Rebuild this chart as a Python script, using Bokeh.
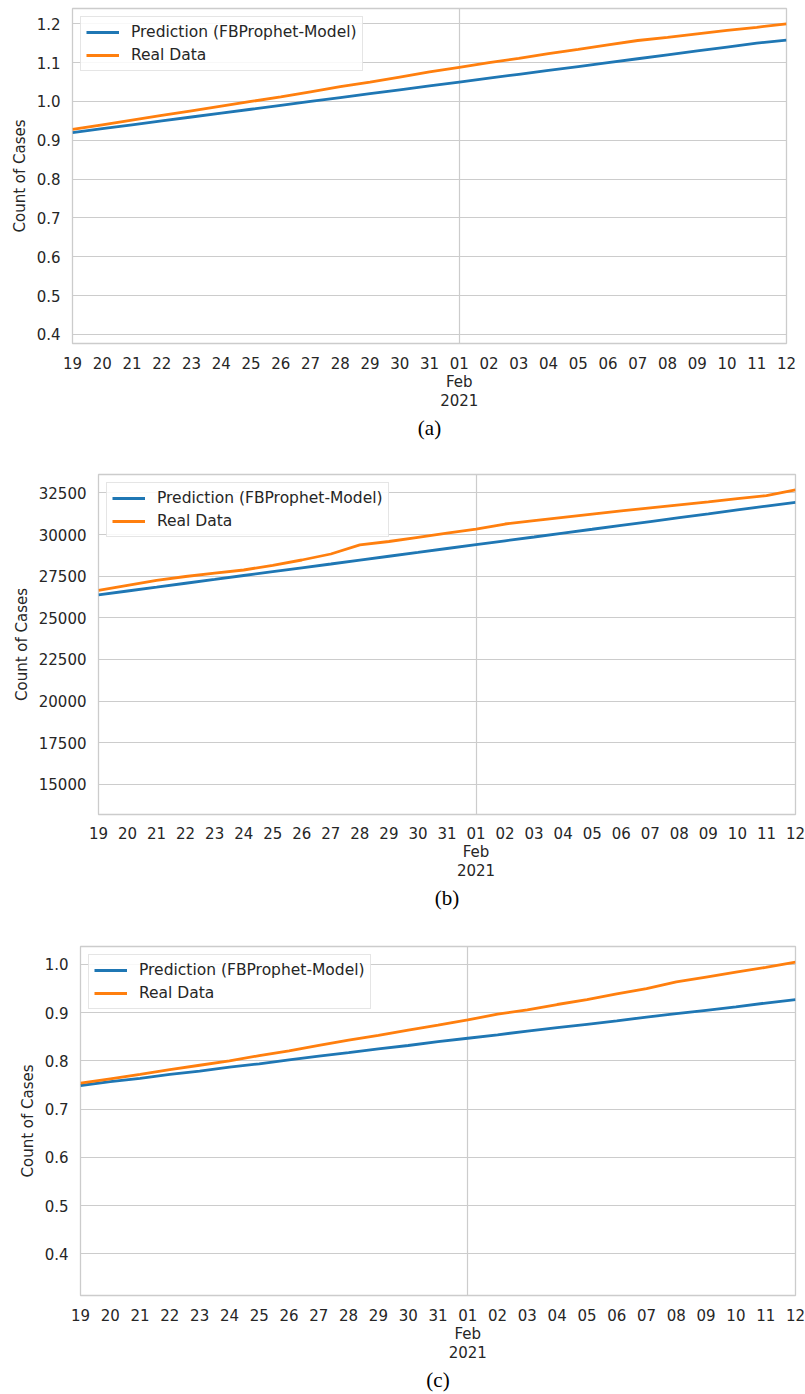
import pandas as pd
from bokeh.plotting import figure
from bokeh.models import Range1d, FixedTicker, Legend, LegendItem, Title, NumeralTickFormatter
from bokeh.embed import file_html
from bokeh.resources import INLINE

# ---------------- data ----------------
dates = ["2021-01-19", "2021-01-20", "2021-01-21", "2021-01-22", "2021-01-23",
         "2021-01-24", "2021-01-25", "2021-01-26", "2021-01-27", "2021-01-28",
         "2021-01-29", "2021-01-30", "2021-01-31", "2021-02-01", "2021-02-02",
         "2021-02-03", "2021-02-04", "2021-02-05", "2021-02-06", "2021-02-07",
         "2021-02-08", "2021-02-09", "2021-02-10", "2021-02-11", "2021-02-12"]
day_labels = ["19", "20", "21", "22", "23", "24", "25", "26", "27", "28", "29", "30", "31",
              "01\nFeb\n2021", "02", "03", "04", "05", "06", "07", "08", "09", "10", "11", "12"]
month_start = "2021-02-01"

pred_a = [0.920, 0.930, 0.940, 0.950, 0.960, 0.970, 0.980, 0.990, 1.000, 1.010, 1.020, 1.030, 1.040,
          1.050, 1.060, 1.070, 1.080, 1.090, 1.100, 1.110, 1.120, 1.130, 1.140, 1.150, 1.158]
real_a = [0.928, 0.940, 0.952, 0.964, 0.976, 0.988, 1.000, 1.012, 1.025, 1.038, 1.050, 1.063, 1.076,
          1.088, 1.100, 1.111, 1.123, 1.134, 1.146, 1.157, 1.165, 1.174, 1.183, 1.191, 1.200]

pred_b = [26380, 26610, 26840, 27075, 27305, 27540, 27770, 28000, 28230, 28465, 28695, 28925, 29160,
          29390, 29620, 29850, 30085, 30315, 30550, 30780, 31010, 31240, 31475, 31705, 31935]
real_b = [26650, 26950, 27250, 27480, 27680, 27870, 28150, 28470, 28830, 29380, 29580, 29830, 30080,
          30330, 30630, 30830, 31030, 31230, 31420, 31600, 31780, 31960, 32150, 32340, 32680]

pred_c = [0.749, 0.757, 0.764, 0.772, 0.779, 0.787, 0.794, 0.802, 0.810, 0.817, 0.825, 0.832, 0.840,
          0.847, 0.854, 0.862, 0.869, 0.876, 0.883, 0.891, 0.898, 0.905, 0.912, 0.920, 0.927]
real_c = [0.754, 0.763, 0.772, 0.782, 0.791, 0.800, 0.811, 0.821, 0.832, 0.843, 0.853, 0.864, 0.874,
          0.885, 0.897, 0.906, 0.917, 0.927, 0.939, 0.950, 0.964, 0.974, 0.984, 0.994, 1.005]

yticks_a = [0.4, 0.5, 0.6, 0.7, 0.8, 0.9, 1.0, 1.1, 1.2]
yticks_b = [15000, 17500, 20000, 22500, 25000, 27500, 30000, 32500]
yticks_c = [0.4, 0.5, 0.6, 0.7, 0.8, 0.9, 1.0]

series_labels = ["Prediction (FBProphet-Model)", "Real Data"]
captions = ["(a)", "(b)", "(c)"]
y_label = "Count of Cases"

# ---------------- styling ----------------
BLUE = "#1f77b4"
ORANGE = "#ff7f0e"
GRID = "#cccccc"
TXT = "#262626"
FONT = "DejaVu Sans"

xdt = pd.to_datetime(dates)
xms = [int(t.value // 10**6) for t in xdt]
feb_ms = int(pd.Timestamp(month_start).value // 10**6)
overrides = {m: lab for m, lab in zip(xms, day_labels)}

FIG_W = 805
CAPTION_X = 416


def panel(pred, real, yticks, ylim, fmt, caption, frame_left, frame_right,
          top_border, frame_h, bottom_border, ticks_standoff=11, cap_standoff=0):
    p = figure(width=FIG_W, height=top_border + frame_h + bottom_border,
               x_axis_type="datetime", title=None,
               x_range=Range1d(xdt[0], xdt[-1]), y_range=Range1d(*ylim),
               output_backend="svg", toolbar_location=None,
               min_border_left=frame_left, min_border_right=FIG_W - frame_right,
               min_border_top=top_border, min_border_bottom=bottom_border)
    p.background_fill_color = "white"
    p.border_fill_color = "white"
    p.outline_line_color = GRID
    p.outline_line_width = 1.3

    # grids
    p.ygrid.ticker = FixedTicker(ticks=yticks)
    p.ygrid.grid_line_color = GRID
    p.ygrid.grid_line_width = 1.2
    p.xgrid.ticker = FixedTicker(ticks=[feb_ms])
    p.xgrid.grid_line_color = GRID
    p.xgrid.grid_line_width = 1.2

    # axes
    for ax in (p.xaxis[0], p.yaxis[0]):
        ax.axis_line_color = None
        ax.major_tick_line_color = None
        ax.minor_tick_line_color = None
        ax.major_tick_out = 0
        ax.major_tick_in = 0
        ax.major_label_text_font = FONT
        ax.major_label_text_font_size = "15px"
        ax.major_label_text_color = TXT

    xa = p.xaxis[0]
    xa.ticker = FixedTicker(ticks=xms)
    xa.major_label_overrides = overrides
    xa.major_label_standoff = ticks_standoff
    xa.major_label_text_line_height = 1.05

    ya = p.yaxis[0]
    ya.ticker = FixedTicker(ticks=yticks)
    ya.formatter = NumeralTickFormatter(format=fmt)
    ya.major_label_standoff = 12
    ya.axis_label = y_label
    ya.axis_label_text_font = FONT
    ya.axis_label_text_font_size = "15px"
    ya.axis_label_text_font_style = "normal"
    ya.axis_label_text_color = TXT
    ya.axis_label_standoff = 5

    r1 = p.line(xdt, pred, line_color=BLUE, line_width=2.8)
    r2 = p.line(xdt, real, line_color=ORANGE, line_width=2.8)

    legend = Legend(items=[LegendItem(label=series_labels[0], renderers=[r1]),
                           LegendItem(label=series_labels[1], renderers=[r2])],
                    location="top_left", margin=8, padding=5, spacing=3,
                    glyph_width=33, glyph_height=20, label_height=20,
                    label_standoff=12, label_text_font=FONT,
                    label_text_font_size="15.5px", label_text_color=TXT,
                    border_line_color=GRID, border_line_width=1.2,
                    background_fill_color="white", background_fill_alpha=0.85)
    p.add_layout(legend)

    frame_center = (frame_left + frame_right) / 2
    cap = Title(text=caption, align="center", offset=CAPTION_X - frame_center,
                standoff=cap_standoff, text_font="Liberation Serif",
                text_font_size="21px", text_font_style="normal", text_color="black")
    p.add_layout(cap, "below")
    return p


pa = panel(pred_a, real_a, yticks_a, (0.3768, 1.2394), "0.0", captions[0],
           frame_left=72, frame_right=786, top_border=8, frame_h=335,
           bottom_border=121)
pb = panel(pred_b, real_b, yticks_b, (13194, 33602), "0", captions[1],
           frame_left=98, frame_right=795, top_border=10, frame_h=340,
           bottom_border=122, ticks_standoff=10)
pc = panel(pred_c, real_c, yticks_c, (0.3135, 1.0373), "0.0", captions[2],
           frame_left=80, frame_right=795, top_border=10, frame_h=349,
           bottom_border=99)

open("out.html", "w").write(file_html([pa, pb, pc], INLINE))
